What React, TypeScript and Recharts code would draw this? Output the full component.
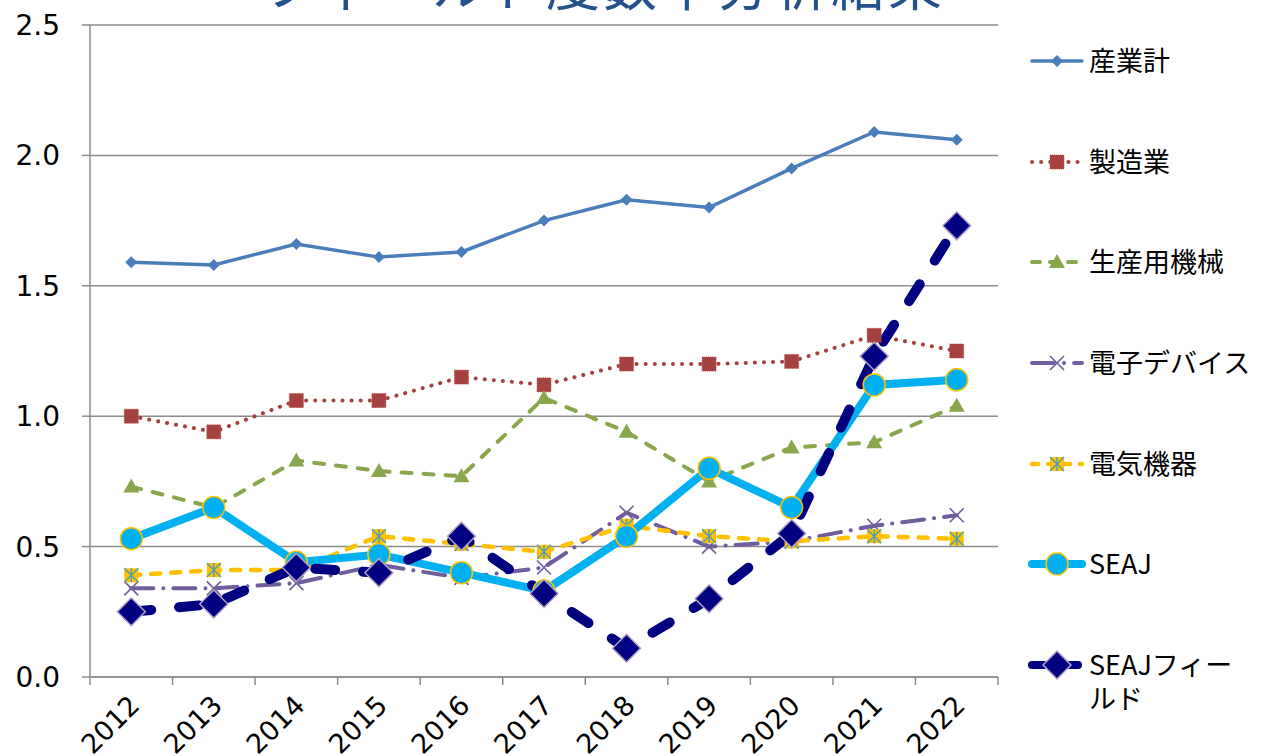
import React from 'react';
import { LineChart, Line, XAxis, YAxis, CartesianGrid } from 'recharts';

const years = ['2012', '2013', '2014', '2015', '2016', '2017', '2018', '2019', '2020', '2021', '2022'];

const sangyoKei = [1.59, 1.58, 1.66, 1.61, 1.63, 1.75, 1.83, 1.8, 1.95, 2.09, 2.06];
const seizogyo = [1.0, 0.94, 1.06, 1.06, 1.15, 1.12, 1.2, 1.2, 1.21, 1.31, 1.25];
const seisanKikai = [0.73, 0.65, 0.83, 0.79, 0.77, 1.07, 0.94, 0.75, 0.88, 0.9, 1.04];
const denshiDevice = [0.34, 0.34, 0.36, 0.43, 0.38, 0.42, 0.63, 0.5, 0.52, 0.58, 0.62];
const denkiKiki = [0.39, 0.41, 0.41, 0.54, 0.51, 0.48, 0.58, 0.54, 0.52, 0.54, 0.53];
const seaj = [0.53, 0.65, 0.44, 0.47, 0.4, 0.33, 0.54, 0.8, 0.65, 1.12, 1.14];
const seajField = [0.25, 0.28, 0.42, 0.4, 0.54, 0.32, 0.11, 0.3, 0.55, 1.23, 1.73];

const yTicks = [0, 0.5, 1.0, 1.5, 2.0, 2.5];
const title = 'フィールド度数率分析結果';

const data = years.map((year, i) => ({
    year,
    s1: sangyoKei[i],
    s2: seizogyo[i],
    s3: seisanKikai[i],
    s4: denshiDevice[i],
    s5: denkiKiki[i],
    s6: seaj[i],
    s7: seajField[i],
}));

const FONT = '"Noto Sans CJK JP", "Noto Sans", sans-serif';
const NUM_FONT = '"DejaVu Sans", sans-serif';
const GRID = '#8c8c8c';

type Marker = (cx: number, cy: number, k?: string) => React.ReactElement;

const diamondSmall: Marker = (cx, cy, k) => (
    <path key={k} d={`M${cx},${cy - 6}L${cx + 6},${cy}L${cx},${cy + 6}L${cx - 6},${cy}Z`} fill="#4a7ebb" />
);
const squareRed: Marker = (cx, cy, k) => (
    <rect key={k} x={cx - 7} y={cy - 7} width={14} height={14} fill="#a5423f" stroke="#c0504d" strokeWidth={1} strokeDasharray="1 1" />
);
const triangleGreen: Marker = (cx, cy, k) => (
    <path key={k} d={`M${cx},${cy - 8}L${cx + 8},${cy + 6}L${cx - 8},${cy + 6}Z`} fill="#8aa64c" />
);
const crossPurple: Marker = (cx, cy, k) => (
    <path key={k} d={`M${cx - 7},${cy - 7}L${cx + 7},${cy + 7}M${cx + 7},${cy - 7}L${cx - 7},${cy + 7}`} stroke="#6f5d9c" strokeWidth={1.6} fill="none" />
);
const starSquare: Marker = (cx, cy, k) => (
    <g key={k}>
        <rect x={cx - 7} y={cy - 7} width={14} height={14} fill="#ffc000" />
        <path d={`M${cx - 7},${cy - 7}L${cx + 7},${cy + 7}M${cx + 7},${cy - 7}L${cx - 7},${cy + 7}M${cx},${cy - 7}L${cx},${cy + 7}`} stroke="#4b9fb8" strokeWidth={1.4} fill="none" />
    </g>
);
const circleCyan: Marker = (cx, cy, k) => (
    <circle key={k} cx={cx} cy={cy} r={11} fill="#00b0f0" stroke="#ffc000" strokeWidth={1.5} />
);
const diamondNavy: Marker = (cx, cy, k) => (
    <path key={k} d={`M${cx},${cy - 14}L${cx + 14},${cy}L${cx},${cy + 14}L${cx - 14},${cy}Z`} fill="#000080" stroke="#b3a2c7" strokeWidth={1.5} />
);

interface SeriesDef {
    key: string;
    name: string;
    color: string;
    width: number;
    dash?: string;
    legendDash?: string;
    marker: Marker;
    wrap?: number;
}

const series: SeriesDef[] = [
    { key: 's1', name: '産業計', color: '#4a7ebb', width: 3.5, marker: diamondSmall },
    { key: 's2', name: '製造業', color: '#a5423f', width: 4, dash: '0.1 9', legendDash: '0.1 9', marker: squareRed },
    { key: 's3', name: '生産用機械', color: '#8aa64c', width: 4, dash: '10 12', legendDash: '8 10', marker: triangleGreen },
    { key: 's4', name: '電子デバイス', color: '#6f5d9c', width: 4, dash: '22 10 0.1 10', legendDash: '22 10 0.1 10', marker: crossPurple },
    { key: 's5', name: '電気機器', color: '#ffc000', width: 4.5, dash: '9 11', legendDash: '6 10', marker: starSquare },
    { key: 's6', name: 'SEAJ', color: '#00b0f0', width: 8, marker: circleCyan },
    { key: 's7', name: 'SEAJフィールド', color: '#000080', width: 10, dash: '20 28', legendDash: '12 22', marker: diamondNavy, wrap: 150 },
];

const XTick = (props: any) => {
    const { x, y, payload } = props;
    const half = payload && payload.offset ? payload.offset : 41.3;
    const isLast = payload && payload.value === years[years.length - 1];
    return (
        <g>
            <line x1={x - half} y1={y} x2={x - half} y2={y + 8} stroke={GRID} strokeWidth={1.5} />
            {isLast && <line x1={x + half} y1={y} x2={x + half} y2={y + 8} stroke={GRID} strokeWidth={1.5} />}
            <text
                x={x + 10}
                y={y + 30}
                textAnchor="end"
                transform={`rotate(-45 ${x + 10} ${y + 30})`}
                fontSize={27}
                fontFamily={NUM_FONT}
                fill="#000"
            >
                {payload.value}
            </text>
        </g>
    );
};

const LegendBox = () => (
    <div style={{ position: 'absolute', left: 1026, top: 43, fontFamily: FONT }}>
        {series.map(s => (
            <div key={s.key} style={{ display: 'flex', alignItems: 'flex-start', height: 100.7 }}>
                <svg width={62} height={36} style={{ flex: 'none' }}>
                    <line x1={6} y1={18} x2={56} y2={18} stroke={s.color} strokeWidth={Math.min(s.width, 8)}
                        strokeDasharray={s.legendDash} strokeLinecap="round" />
                    {s.marker(31, 18)}
                </svg>
                <div style={{
                    fontSize: 27, lineHeight: '34px', color: '#000', marginLeft: 1,
                    width: s.wrap, whiteSpace: s.wrap ? 'normal' : 'nowrap',
                }}>{s.name}</div>
            </div>
        ))}
    </div>
);

const App: React.FC = () => {
    return (
        <div style={{ position: 'absolute', left: 0, top: 0, width: 1269, height: 756, overflow: 'hidden', background: '#fff' }}>
            <LineChart width={1269} height={756} data={data} margin={{ top: 25, right: 271, bottom: 0, left: 10 }}>
                <CartesianGrid vertical={false} stroke={GRID} strokeWidth={1.5} />
                <XAxis
                    dataKey="year"
                    scale="band"
                    height={79}
                    axisLine={{ stroke: GRID, strokeWidth: 1.5 }}
                    tickLine={false}
                    tickSize={0}
                    tickMargin={0}
                    interval={0}
                    tick={<XTick />}
                />
                <YAxis
                    type="number"
                    domain={[0, 2.5]}
                    ticks={yTicks}
                    width={80}
                    axisLine={{ stroke: GRID, strokeWidth: 1.5 }}
                    tickLine={{ stroke: GRID, strokeWidth: 1.5 }}
                    tickSize={8}
                    tickMargin={22}
                    tickFormatter={(v: number) => v.toFixed(1)}
                    tick={{ fontSize: 28, fontFamily: NUM_FONT, fill: '#000' }}
                />
                {series.map(s => (
                    <Line
                        key={s.key}
                        dataKey={s.key}
                        name={s.name}
                        type="linear"
                        stroke={s.color}
                        strokeWidth={s.width}
                        strokeDasharray={s.dash}
                        strokeLinecap="round"
                        dot={(p: any) => s.marker(p.cx, p.cy, `${s.key}-${p.index}`)}
                        activeDot={false}
                        isAnimationActive={false}
                    />
                ))}
            </LineChart>
            <LegendBox />
            <svg width={1269} height={40} style={{ position: 'absolute', left: 0, top: 0, pointerEvents: 'none' }}>
                <text x={262} y={6} fontSize={54} letterSpacing={3} fontFamily={FONT} fill="#24508c">{title}</text>
            </svg>
        </div>
    );
};

export default App;
